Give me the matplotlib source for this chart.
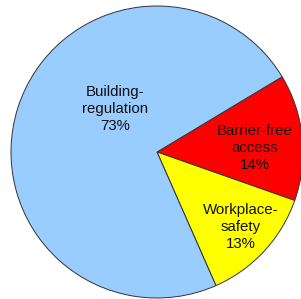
import matplotlib
matplotlib.use("Agg")
import matplotlib.pyplot as plt
import numpy as np

labels = ["Barrier-free\naccess", "Workplace-\nsafety", "Building-\nregulation"]
values = [14, 13, 73]
colors = ["#FF0000", "#FFFF00", "#99CCFF"]
# label placement (radius fraction, angle in degrees)
label_pos = [(0.67, 2.3), (0.77, -42.0), (0.41, 134.0)]

plt.rcParams['font.family'] = ['Liberation Sans', 'DejaVu Sans']
fig = plt.figure(figsize=(3.01, 2.99), dpi=100)
ax = fig.add_axes([(157 - 146) / 301, (147 - 146) / 299, 292 / 301, 292 / 299])
wedges, _ = ax.pie(values, colors=colors, startangle=31, counterclock=False,
                   wedgeprops=dict(edgecolor="#333333", linewidth=0.7), radius=1.0)
ax.set_xlim(-1, 1)
ax.set_ylim(-1, 1)
for lab, v, (r, a) in zip(labels, values, label_pos):
    t = np.deg2rad(a)
    ax.text(r * np.cos(t), r * np.sin(t), f"{lab}\n{v}%", ha="center", va="center",
            fontsize=10.8, color="#111111", linespacing=1.25)
fig.savefig("out.png", dpi=100)
